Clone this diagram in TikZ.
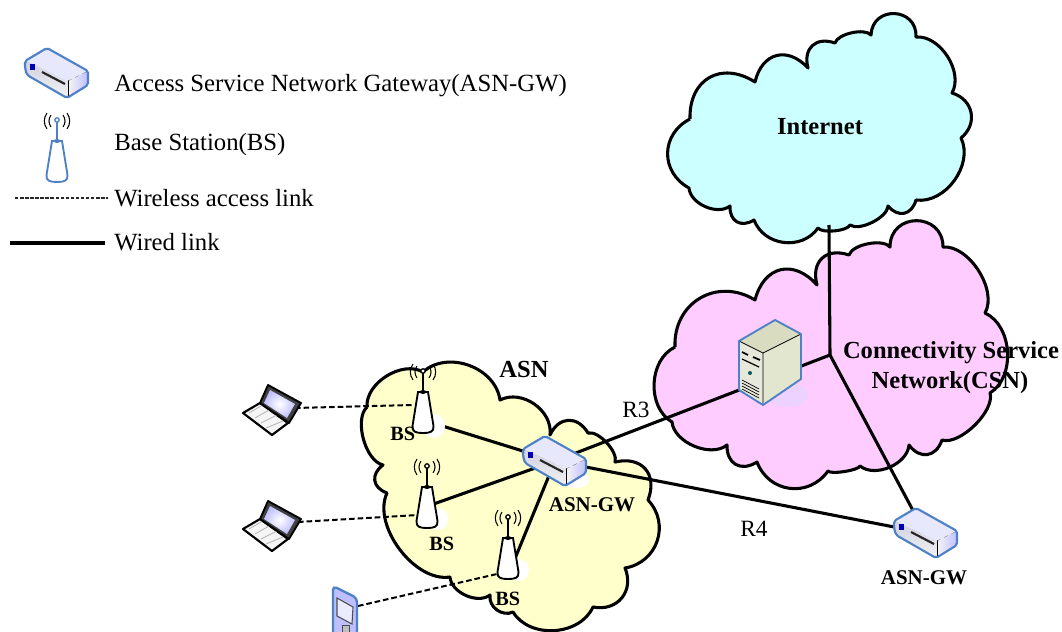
\documentclass[tikz,border=0pt]{standalone}
\usepackage{fontspec}
\setmainfont{Liberation Serif}
\definecolor{iconblue}{HTML}{4F81C7}
\definecolor{inetcyan}{HTML}{CCFFFF}
\definecolor{csnpink}{HTML}{FFCCFF}
\definecolor{asnyellow}{HTML}{FFFFCC}
\definecolor{servertop}{HTML}{D9DCC0}
\definecolor{serverfront}{HTML}{E6E8DA}
\definecolor{serverside}{HTML}{E2E6CE}
\tikzset{
  cloudline/.style={draw=black,line width=2.3pt,line join=round},
  lobe/.style={bend left=62,looseness={1.25*sin(#1)/sin(62)}},
  biglobe/.style={bend left=90,looseness=1.7},
  wired/.style={line width=2.3pt},
  wireless/.style={dashed,dash pattern=on 4.2pt off 2.2pt,line width=1.5pt},
  thinlink/.style={dashed,dash pattern=on 2.6pt off 1.2pt,line width=1pt,draw=black!85},
  legendtext/.style={anchor=base west,inner sep=0pt,font=\fontsize{18.55}{20}\selectfont},
  netlabel/.style={anchor=base,inner sep=0pt,font=\fontsize{18.4}{20}\selectfont\bfseries},
  gwlabel/.style={anchor=base,inner sep=0pt,font=\fontsize{15.7}{18}\selectfont\bfseries},
  bslabel/.style={anchor=base west,inner sep=0pt,font=\fontsize{15.2}{18}\selectfont\bfseries},
  refpoint/.style={anchor=base west,inner sep=0pt,font=\fontsize{17.5}{20}\selectfont},
  halo/.style={fill=white},
  % -- Box with a blue rim, origin at the corner of its bounding box --
  gateway/.pic={
    \fill[gray!16!blue!10] (0,13) -- (22,0) -- (63,23) -- (43,33) -- cycle;
    \shade[top color=blue!22!gray!30,bottom color=gray!10] (1,13) -- (43,33) -- (43,50) -- (2,27) -- cycle;
    \shade[left color=gray!8,right color=blue!25] (43,33) -- (63,23) -- (63,37) -- (43,50) -- cycle;
    \draw[line width=.6pt,black] (43,32) -- (43,48);
    \draw[line width=.3pt,gray,dashed] (43,33) -- (63,23);
    \fill[blue!70!black] (5,16) rectangle (10,22);
    \draw[line width=1.6pt,black!85] (17,24) -- (40,36);
    \draw[iconblue,line width=1.6pt,line join=round,rounded corners=1.5pt]
      (0,20) -- (0,13) -- (22,0) -- (63,23) -- (63,37) -- (42,50) -- (2,27) -- cycle;
  },
  % -- Antenna on a cone, origin at the foot, colour of the rim as argument --
  station/.pic={
    \draw[line width=.8pt,black] (-6,-67) to[bend right=35] (-6,-55)
      (6,-67) to[bend left=35] (6,-55)
      (-10,-69) to[bend right=35] (-10,-53)
      (10,-69) to[bend left=35] (10,-53);
    \draw[#1,line width=1.4pt] (0,-42) -- (0,-62);
    \draw[#1,line width=1pt,fill=white] (0,-62) circle [radius=2.2];
    \draw[#1,line width=1.4pt,fill=white]
      (-5,-41) -- (5,-41) -- (10.5,-7) .. controls (11,-1) and (7,0) .. (0,0)
      .. controls (-7,0) and (-11,-1) .. (-10.5,-7) -- cycle;
    \draw[#1,line width=.5pt] (0,-41) circle [x radius=3,y radius=1.6];
  },
  laptop/.pic={
    \fill[gray!8,draw=black,line width=1.6pt,line join=round] (17,18) -- (0,28) -- (29,50) -- (45,38) -- cycle;
    \draw[gray!60,line width=.6pt] (6,28) -- (18,21) (12,33) -- (26,25) (18,38) -- (34,30) (23,43) -- (40,36);
    \fill[black!75,draw=black,line width=1.4pt,line join=round]
      (25,0) -- (58,18) -- (46,38) -- (17,18) -- cycle;
    \shade[inner color=white,outer color=blue!25]
      (27,5) -- (52,19) -- (44,33) -- (21,18) -- cycle;
  },
  pda/.pic={
    \fill[blue!25,draw=iconblue,line width=1.8pt,rounded corners=3pt] (0,12) -- (0,-1) -- (24,11) -- (24,50) -- (0,50) -- cycle;
    \fill[white!92!blue,draw=black!70,line width=.8pt] (4,11) -- (20,20) -- (19,37) -- (4,29) -- cycle;
    \fill[gray!50,draw=black!70,line width=.5pt] (9,38) rectangle (16,50);
  },
  server/.pic={
    \fill[servertop] (0,21) -- (36,0) -- (62,14) -- (24,33) -- cycle;
    \fill[serverfront] (0,21) -- (24,33) -- (24,85) -- (0,70) -- cycle;
    \fill[serverside] (24,33) -- (62,14) -- (62,59) -- (24,85) -- cycle;
    \draw[black,line width=.6pt] (0,21) -- (24,33) -- (62,14) (24,33) -- (24,85);
    \draw[black,line width=1.3pt] (3,32) -- (9,35) (14,37) -- (21,40);
    \draw[black,line width=.9pt] (3,39) -- (20,47);
    \fill[teal!70!black] (11,53) circle [radius=2];
    \draw[black,line width=.5pt] (3,60) -- (20,69) (3,63) -- (20,72) (3,66) -- (20,75) (3,69) -- (20,78);
    \draw[iconblue,line width=1.4pt,line join=round]
      (0,21) -- (36,0) -- (62,14) -- (62,59) -- (24,85) -- (0,70) -- cycle;
  }
}

\begin{document}
\begin{tikzpicture}[x=.75pt,y=-.75pt]
    \useasboundingbox (0,0) rectangle (1062,631);
    \clip (0,0) rectangle (1062,631);

    % -- Connection points of the links --
    \coordinate (gwMain) at (555,461);
    \coordinate (gwFar) at (925,533);
    \coordinate (bsTop) at (423,420);
    \coordinate (bsMid) at (428,506);
    \coordinate (bsLow) at (507,578);
    \coordinate (bsTopAir) at (412,405);
    \coordinate (bsMidAir) at (418,515);
    \coordinate (bsLowAir) at (497,574);
    \coordinate (lapTop) at (295,408);
    \coordinate (lapLow) at (298,522);
    \coordinate (pdaAir) at (358,606);
    \coordinate (hub) at (830,355);
    \coordinate (inetFoot) at (829,225);
    \coordinate (keyAirL) at (15,198);
    \coordinate (keyAirR) at (108,198);
    \coordinate (keyWireL) at (10,243);
    \coordinate (keyWireR) at (105,243);

    % -- Internet cloud --
    \draw[cloudline,fill=inetcyan] (690,119) to[lobe=75] (755,82) to[lobe=90] (808,68)
      to[lobe=90] (835,43) to[lobe=28] (871,35) to[biglobe] (916,37) to[lobe=41] (952,93)
      to[lobe=62] (961,138) to[lobe=44] (916,200) to[lobe=90] (888,206) to[lobe=29] (850,225)
      to[lobe=22] (818,228) to[lobe=52] (754,220) to[lobe=90] (730,206) to[lobe=40] (689,188)
      to[lobe=60] (690,119);

    % -- CSN cloud --
    \draw[cloudline,fill=csnpink] (675,347) to[lobe=60] (755,300) to[lobe=90] (817,285)
      to[lobe=90] (849,255) to[lobe=29] (890,247) to[biglobe] (943,247) to[lobe=37] (985,313)
      to[lobe=43] (990,393) to[lobe=30] (942,440) to[lobe=90] (909,445) to[lobe=41] (860,466)
      to[lobe=15] (828,471) to[lobe=57] (757,462) to[lobe=90] (727,445) to[lobe=39] (672,422)
      to[lobe=45] (675,347);

    % -- ASN cloud --
    \draw[cloudline,fill=asnyellow] (367,407) to[lobe=41] (423,372) to[lobe=47] (500,400)
      to[lobe=47] (550,435) to[lobe=80] (588,433) to[lobe=29] (615,462) to[lobe=85] (648,500)
      to[lobe=56] (625,568) to[lobe=63] (593,607) to[lobe=46] (513,612) to[lobe=49] (490,595)
      to[lobe=40] (450,577) to[lobe=38] (387,493) to[lobe=90] (383,465) to[lobe=33] (367,407);

    % -- Wired links --
    \draw[wired] (inetFoot) -- (hub);
    \draw[wired] (gwMain) -- (hub);
    \draw[wired] (hub) -- (gwFar);
    \draw[wired] (gwMain) -- (gwFar);
    \draw[wired] (bsTop) -- (gwMain);
    \draw[wired] (bsMid) -- (gwMain);
    \draw[wired] (bsLow) -- (gwMain);

    % -- Wireless links --
    \draw[wireless] (lapTop) -- (bsTopAir);
    \draw[wireless] (lapLow) -- (bsMidAir);
    \draw[wireless] (pdaAir) -- (bsLowAir);

    % -- White patches under the icons --
    \fill[halo] (434,426) ellipse [x radius=11,y radius=12];
    \fill[halo] (438,519) ellipse [x radius=10,y radius=11];
    \fill[halo] (519,570) ellipse [x radius=10,y radius=11];
    \fill[halo] (576,480) ellipse [x radius=13,y radius=8];
    \fill[blue!12!csnpink!60!white] (787,395) ellipse [x radius=22,y radius=12];

    % -- Icons --
    \pic at (25,48) {gateway};
    \pic at (523,436) {gateway};
    \pic at (894,508) {gateway};
    \pic at (57,182) {station=iconblue};
    \pic at (423,433) {station=black};
    \pic at (427,528) {station=black};
    \pic at (508,579) {station=black};
    \pic at (243,385) {laptop};
    \pic at (243,501) {laptop};
    \pic at (333,587) {pda};
    \pic at (739,320) {server};

    % -- Legend --
    \draw[thinlink] (keyAirL) -- (keyAirR);
    \draw[wired] (keyWireL) -- (keyWireR);
    \node[legendtext] (keyGw) at (114,92) {Access Service Network Gateway(ASN-GW)};
    \node[legendtext] (keyBs) at (114,151) {Base Station(BS)};
    \node[legendtext] (keyAir) at (114,206) {Wireless access link};
    \node[legendtext] (keyWire) at (114,250) {Wired link};

    % -- Labels --
    \node[netlabel] (inetName) at (820,135) {Internet};
    \node[netlabel] (csnNameA) at (951,358) {Connectivity Service};
    \node[netlabel] (csnNameB) at (950,388) {Network(CSN)};
    \node[netlabel] (asnName) at (524,377) {ASN};
    \node[gwlabel] (gwMainName) at (592,511) {ASN-GW};
    \node[gwlabel] (gwFarName) at (924,584) {ASN-GW};
    \node[bslabel] (bsTopName) at (390,440) {BS};
    \node[bslabel] (bsMidName) at (429,550) {BS};
    \node[bslabel] (bsLowName) at (495,605) {BS};
    \node[refpoint] (refThree) at (622,417) {R3};
    \node[refpoint] (refFour) at (740,536) {R4};

\end{tikzpicture}
\end{document}
